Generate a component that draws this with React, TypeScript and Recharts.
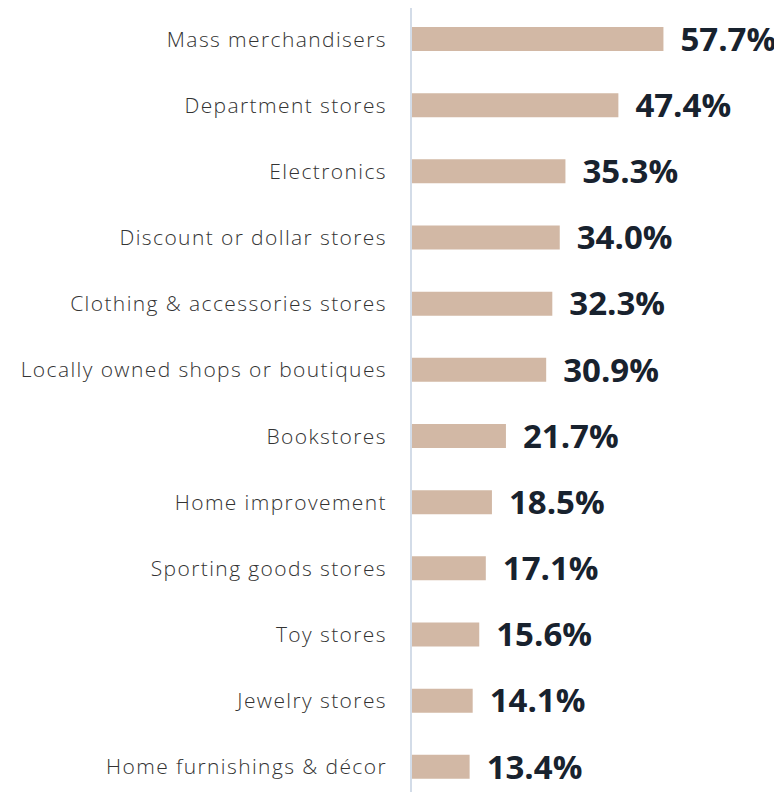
import { Bar, BarChart, LabelList, XAxis, YAxis } from 'recharts'

const categories = [
  "Mass merchandisers",
  "Department stores",
  "Electronics",
  "Discount or dollar stores",
  "Clothing & accessories stores",
  "Locally owned shops or boutiques",
  "Bookstores",
  "Home improvement",
  "Sporting goods stores",
  "Toy stores",
  "Jewelry stores",
  "Home furnishings & décor",
]

const shares = [57.7, 47.4, 35.3, 34.0, 32.3, 30.9, 21.7, 18.5, 17.1, 15.6, 14.1, 13.4]

function App() {
  const data = categories.map((name, i) => ({ name, value: shares[i] }))

  return (
    <div style={{ margin: -8, width: 782, height: 800, background: '#fff' }}>
      <BarChart
        width={782}
        height={800}
        data={data}
        layout="vertical"
        margin={{ top: 6, right: 21, bottom: 0, left: 0 }}
      >
        <XAxis type="number" domain={[0, 80]} hide />
        <YAxis
          type="category"
          dataKey="name"
          width={411}
          tickLine={false}
          tickSize={0}
          tickMargin={24}
          axisLine={{ stroke: '#d3dce8', strokeWidth: 2 }}
          tick={{ fill: '#333', fontSize: 21, fontFamily: 'Open Sans', fontWeight: 300, letterSpacing: 1.4 }}
        />
        <Bar dataKey="value" fill="#d2b8a5" barSize={24} isAnimationActive={false}>
          <LabelList
            dataKey="value"
            position="right"
            offset={17}
            formatter={(v: number) => v.toFixed(1) + '%'}
            style={{ fill: '#18222e', fontSize: 33, fontWeight: 700, fontFamily: 'Open Sans' }}
          />
        </Bar>
      </BarChart>
    </div>
  )
}

export default App
